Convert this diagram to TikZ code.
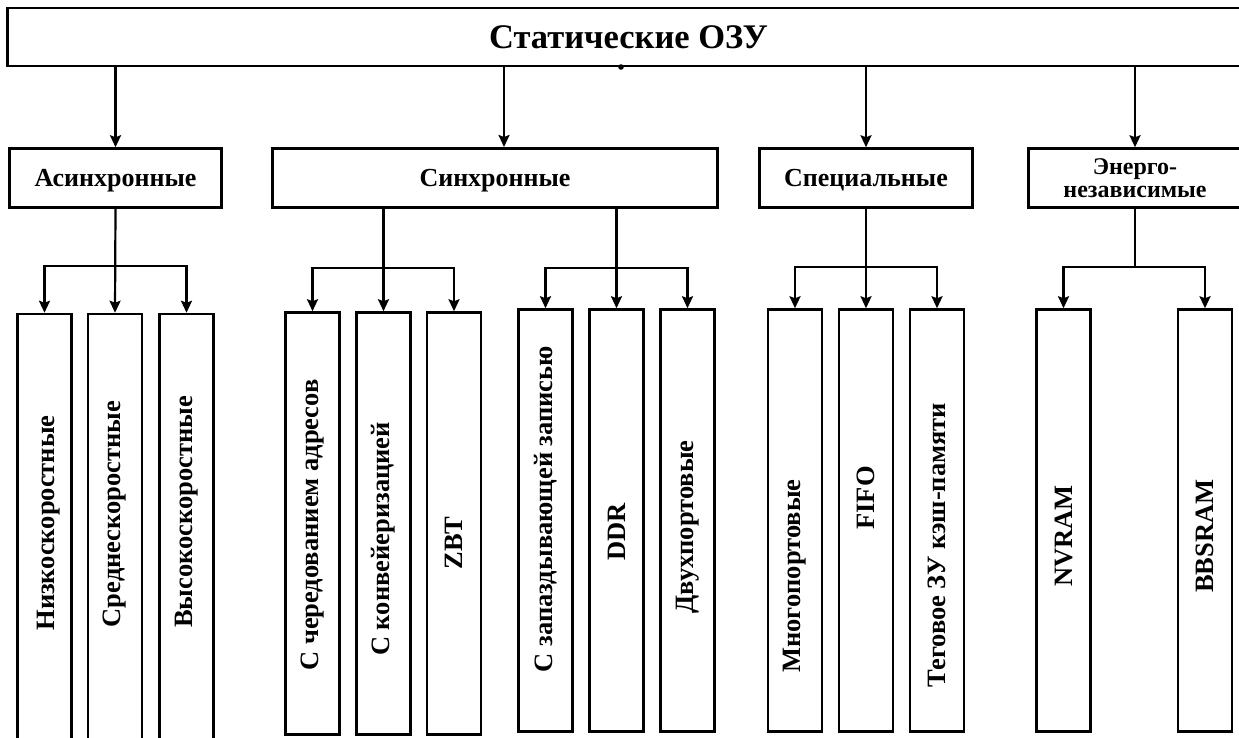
\documentclass[tikz,border=0pt]{standalone}
\usepackage{fontspec}
\setmainfont{Liberation Serif}
\usetikzlibrary{arrows.meta, positioning}

\begin{document}
\begin{tikzpicture}[x=1pt,y=-1pt,>={Stealth[length=12pt,width=11pt,inset=2pt]},line width=2.2pt,
  box/.style={draw, line width=2.5pt, inner sep=0pt, minimum height=59, align=center,
              text depth=0pt, font=\bfseries\fontsize{26}{27}\selectfont},
  leaf/.style={draw, line width=2.5pt, inner sep=0pt, minimum width=54, minimum height=422},
  lbl/.style={rotate=90, inner sep=0pt, font=\bfseries\fontsize{26.5}{28}\selectfont}]

\clip (0,0) rectangle (1239,738);

\node[box, minimum width=1242, minimum height=58,
      font=\bfseries\fontsize{34.5}{36}\selectfont] (top) at (628.5,37) {Статические ОЗУ};

\node[box, minimum width=212] (asyn)   at (115.5,178) {Асинхронные};
\node[box, minimum width=445] (syn)    at (495,178)   {Синхронные};
\node[box, minimum width=213] (spec)   at (866,178)   {Специальные};
\node[box, minimum width=213, font=\bfseries\fontsize{24}{23}\selectfont]
                              (energy) at (1135,178)  {Энерго-\\независимые};

\node[leaf, minimum height=446] (a1) at (44.5,537) {};
\node[leaf, minimum height=446] (a2) at (115,537)  {};
\node[leaf, minimum height=446] (a3) at (186.5,537) {};

\node[leaf] (s1) at (312.5,523.5) {};
\node[leaf] (s2) at (383.5,523.5) {};
\node[leaf] (s3) at (454,523.5)   {};

\node[leaf] (s4) at (545.5,520.5) {};
\node[leaf] (s5) at (616.5,520.5) {};
\node[leaf] (s6) at (687.5,520.5) {};

\node[leaf] (p1) at (795,520.5) {};
\node[leaf] (p2) at (866,520.5) {};
\node[leaf] (p3) at (937,520.5) {};

\node[leaf] (n1) at (1063.5,520.5) {};
\node[leaf] (n2) at (1205,520.5)   {};

\node[lbl] (ta1) at (49,523)    {Низкоскоростные};
\node[lbl] (ta2) at (a2 |- 0,514) {Среднескоростные};
\node[lbl] (ta3) at (a3 |- 0,512) {Высокоскоростные};
\node[lbl] (ts1) at (s1 |- 0,525) {С чередованием адресов};
\node[lbl] (ts2) at (s2 |- 0,539) {С конвейеризацией};
\node[lbl] (ts3) at (s3 |- 0,543) {ZBT};
\node[lbl] (ts4) at (s4 |- 0,509) {С запаздывающей записью};
\node[lbl] (ts5) at (s5 |- 0,532) {DDR};
\node[lbl] (ts6) at (s6 |- 0,527) {Двухпортовые};
\node[lbl] (tp1) at (p1 |- 0,576) {Многопортовые};
\node[lbl] (tp2) at (p2 |- 0,498) {FIFO};
\node[lbl] (tp3) at (p3 |- 0,545) {Теговое ЗУ кэш-памяти};
\node[lbl] (tn1) at (n1 |- 0,536) {NVRAM};
\node[lbl] (tn2) at (n2 |- 0,536) {BBSRAM};

\coordinate (inSyn) at (504,147);
\coordinate (dot) at (621,67);
\fill (dot) circle (2.8);

\path (top.south -| asyn.north) edge[->] (asyn.north)
      (top.south -| inSyn)      edge[->] (inSyn)
      (top.south -| spec.north) edge[->] (spec.north)
      (top.south -| energy.north) edge[->] (energy.north);

\coordinate (busA) at (115,266);
\coordinate (busS) at (383.5,268);
\coordinate (busD) at (616.5,268);
\coordinate (busP) at (866,267);
\coordinate (busN) at (1135,267);

\path (asyn.south) edge[->] (a2.north)
      (syn.south -| s2.north) edge[->] (s2.north)
      (syn.south -| s5.north) edge[->] (s5.north)
      (spec.south) edge[->] (p2.north);
\draw (energy.south) -- (busN);

\draw[->] (busA) -| (a1.north);
\draw[->] (busA) -| (a3.north);
\draw[->] (busS) -| (s1.north);
\draw[->] (busS) -| (s3.north);
\draw[->] (busD) -| (s4.north);
\draw[->] (busD) -| (s6.north);
\draw[->] (busP) -| (p1.north);
\draw[->] (busP) -| (p3.north);
\draw[->] (busN) -| (n1.north);
\draw[->] (busN) -| (n2.north);

\end{tikzpicture}
\end{document}
